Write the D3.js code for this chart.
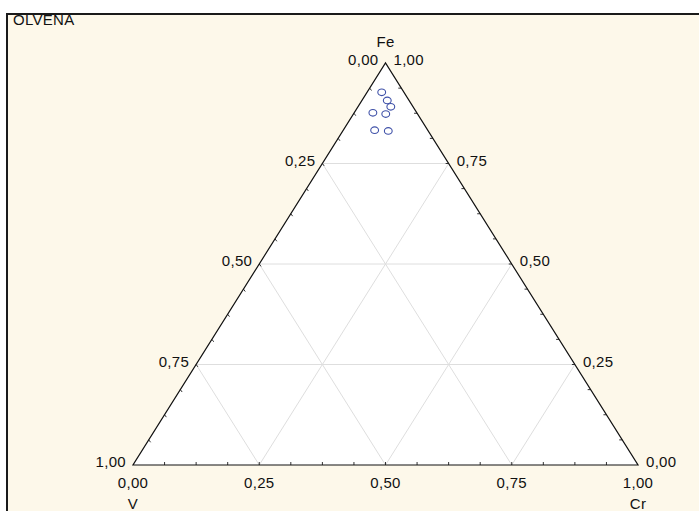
<!DOCTYPE html>
<html>
<head>
<meta charset="utf-8">
<script src="https://cdn.jsdelivr.net/npm/d3@7"></script>
<style>
  html, body { margin: 0; padding: 0; background: #ffffff; }
  svg { display: block; }
  text { font-family: "Liberation Sans", Arial, sans-serif; fill: #111; }
</style>
</head>
<body>
<svg id="chart" width="699" height="511"></svg>
<script>
// ---- Data (ternary compositions: V, Cr, Fe) ----
const title = "OLVENA";
const axisNames = ["V", "Cr", "Fe"];
const feValues = [0.927, 0.907, 0.891, 0.876, 0.873, 0.833, 0.831];
const crValues = [0.029, 0.050, 0.065, 0.037, 0.064, 0.062, 0.090];
const vValues  = [0.044, 0.043, 0.044, 0.087, 0.063, 0.105, 0.079];
const tickValues = [0, 0.25, 0.5, 0.75, 1];
const tickLabels = ["0,00", "0,25", "0,50", "0,75", "1,00"];

const svg = d3.select("#chart");
const W = 699, H = 511;

// background panel
svg.append("rect").attr("x", 7).attr("y", 14).attr("width", W).attr("height", H)
  .attr("fill", "#fdf8ea");

// scales
const xs = d3.scaleLinear().domain([0, 1]).range([133, 638]);
const ys = d3.scaleLinear().domain([0, 1]).range([465, 63]);
// ternary -> pixel (cr, fe)
const P = (cr, fe) => [xs(cr + fe / 2), ys(fe)];

const g = svg.append("g");

// triangle fill
const vV = P(0, 0), vCr = P(1, 0), vFe = P(0, 1);
g.append("path").attr("d", d3.line()([vV, vCr, vFe]) + "Z").attr("fill", "#ffffff");

// grid lines
const inner = tickValues.filter(t => t > 0 && t < 1);
const gridSegs = [];
inner.forEach(t => {
  gridSegs.push([P(0, t), P(1 - t, t)]);       // constant Fe (horizontal)
  gridSegs.push([P(t, 0), P(t, 1 - t)]);       // constant Cr
  gridSegs.push([P(1 - t, 0), P(0, 1 - t)]);   // constant V
});
g.selectAll("line.grid").data(gridSegs).enter().append("line")
  .attr("class", "grid")
  .attr("x1", d => d[0][0]).attr("y1", d => d[0][1])
  .attr("x2", d => d[1][0]).attr("y2", d => d[1][1])
  .attr("stroke", "#dedede").attr("stroke-width", 1);

// minor ticks along edges (inward)
const minor = d3.range(1, 16).map(i => i / 16);
const tickLen = 3;
const ticks = [];
minor.forEach(t => {
  let p = P(t, 0); ticks.push([p, [p[0], p[1] - tickLen]]);
  p = P(1 - t, t); ticks.push([p, [p[0] - tickLen, p[1]]]);
  p = P(0, t); ticks.push([p, [p[0] + tickLen * 0.6, p[1] + tickLen * 0.8]]);
});
g.selectAll("line.tick").data(ticks).enter().append("line")
  .attr("class", "tick")
  .attr("x1", d => d[0][0]).attr("y1", d => d[0][1])
  .attr("x2", d => d[1][0]).attr("y2", d => d[1][1])
  .attr("stroke", "#333").attr("stroke-width", 1);

// triangle outline
g.append("path").attr("d", d3.line()([vV, vCr, vFe]) + "Z")
  .attr("fill", "none").attr("stroke", "#111").attr("stroke-width", 1.2);

// points
const pts = feValues.map((fe, i) => ({ fe, cr: crValues[i], v: vValues[i] }));
g.selectAll("ellipse.pt").data(pts).enter().append("ellipse")
  .attr("class", "pt")
  .attr("cx", d => P(d.cr, d.fe)[0]).attr("cy", d => P(d.cr, d.fe)[1])
  .attr("rx", 3.9).attr("ry", 3.3).attr("fill", "none").attr("stroke", "#3f51a8").attr("stroke-width", 1.1);

// labels
const fs = 15;
const lab = svg.append("g").attr("font-size", fs).attr("letter-spacing", "0.3px");
// bottom axis (Cr)
tickValues.forEach((t, i) => {
  const p = P(t, 0);
  lab.append("text").attr("x", p[0]).attr("y", p[1] + 23).attr("text-anchor", "middle").text(tickLabels[i]);
});
// right axis (Fe)
tickValues.forEach((t, i) => {
  const p = P(1 - t, t);
  lab.append("text").attr("x", p[0] + 8).attr("y", p[1] + 2).attr("text-anchor", "start").text(tickLabels[i]);
});
// left axis (V)
tickValues.forEach((t, i) => {
  const p = P(0, 1 - t);
  lab.append("text").attr("x", p[0] - 7).attr("y", p[1] + 2).attr("text-anchor", "end").text(tickLabels[i]);
});
// vertex names
lab.append("text").attr("x", vV[0]).attr("y", vV[1] + 44).attr("text-anchor", "middle").text(axisNames[0]);
lab.append("text").attr("x", vCr[0]).attr("y", vCr[1] + 44).attr("text-anchor", "middle").text(axisNames[1]);
lab.append("text").attr("x", vFe[0]).attr("y", vFe[1] - 16).attr("text-anchor", "middle").text(axisNames[2]);

// title and frame
svg.append("text").attr("x", 13).attr("y", 25).attr("font-size", 15).attr("letter-spacing", "0.3px").text(title);
svg.append("line").attr("x1", 7).attr("y1", 14).attr("x2", W).attr("y2", 14).attr("stroke", "#1a1a1a").attr("stroke-width", 2);
svg.append("line").attr("x1", 7).attr("y1", 13).attr("x2", 7).attr("y2", H).attr("stroke", "#1a1a1a").attr("stroke-width", 2);
</script>
</body>
</html>
